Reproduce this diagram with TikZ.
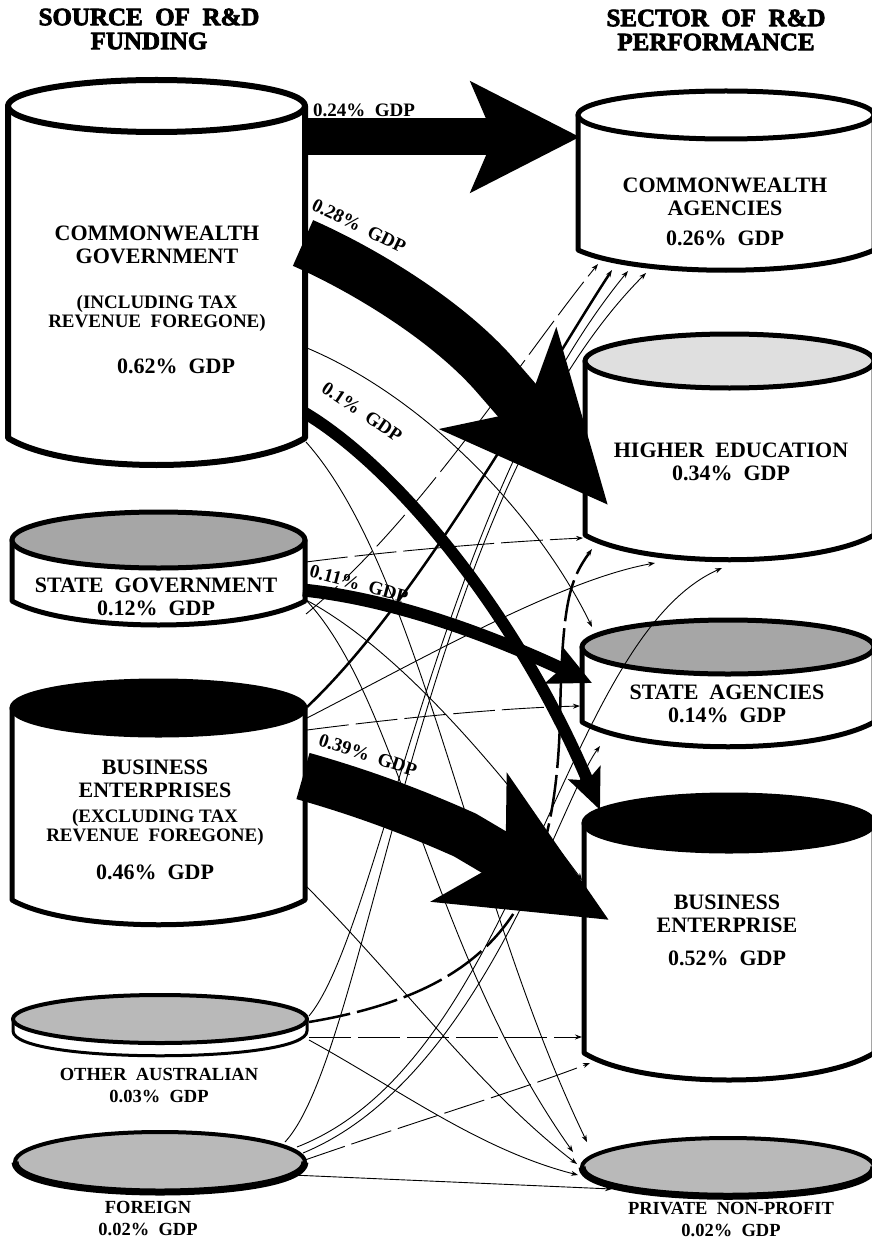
\documentclass[tikz,border=0pt]{standalone}
\usepackage{fontspec}
\setmainfont{Liberation Serif}
\newfontfamily\heavyfont{Liberation Serif}[BoldFeatures={FakeBold=3}]
\usetikzlibrary{arrows.meta,positioning}

\tikzset{
  rim/.style={line width=5pt,line join=round},
  lbl/.style={font=\bfseries\fontsize{22}{23}\selectfont,align=center,inner sep=0pt},
  notelbl/.style={font=\bfseries\fontsize{19}{19}\selectfont,align=center,inner sep=0pt},
  sublbl/.style={font=\bfseries\fontsize{18.5}{22}\selectfont,align=center,inner sep=0pt},
  ttl/.style={font=\heavyfont\bfseries\fontsize{25}{24}\selectfont,align=center,inner sep=0pt},
  pct/.style={font=\bfseries\fontsize{19}{19}\selectfont,inner sep=0pt},
  flow/.style={line width=0.9pt,-{Stealth[length=7pt,width=5pt]}},
  gapflow/.style={flow,dash pattern=on 42pt off 7pt},
}

\begin{document}
\begin{tikzpicture}[x=1pt,y=-1pt,line join=round]
\useasboundingbox[fill=white] (0,0) rectangle (871,1241);
%% titles
\node[ttl] (srcttl) at (149,29) {SOURCE\ \ OF\ \ R\&D\\FUNDING};
\node[ttl] (perfttl) at (716,30) {SECTOR\ \ OF\ \ R\&D\\PERFORMANCE};
%% funding sources
\draw[rim,line width=6pt,fill=white] (8,106) -- (8,438) .. controls (67,474) and (246,474) .. (305,438) -- (305,106) -- cycle;
\draw[rim,line width=6pt,fill=white] (156.5,106) ellipse [x radius=148.5, y radius=26];
\draw[rim,fill=white] (12,540) -- (12,601) .. controls (71,633) and (246,633) .. (305,601) -- (305,540) -- cycle;
\draw[rim,fill=gray!70] (158.5,540) ellipse [x radius=146.5, y radius=28];
\draw[rim,fill=white] (12,708) -- (12,900) .. controls (71,933) and (246,933) .. (305,900) -- (305,708) -- cycle;
\draw[rim,fill=black] (158.5,708) ellipse [x radius=146.5, y radius=27];
\draw[line width=3pt,fill=white] (13,1019) -- (13,1031) .. controls (13,1064) and (307,1064) .. (307,1031) -- (307,1019) -- cycle;
\draw[line width=4pt,fill=gray!55] (160,1019) ellipse [x radius=147, y radius=24];
\draw[line width=4pt,fill=gray!55] (160,1162) ellipse [x radius=145, y radius=30];
\draw[line width=7pt] (15,1162) .. controls (15,1202) and (305,1202) .. (305,1162);
%% performing sectors
\draw[rim,fill=white] (578,115) -- (578,250) .. controls (637,277) and (815,277) .. (874,250) -- (874,115) -- cycle;
\draw[rim,fill=white] (726,115) ellipse [x radius=148, y radius=24];
\draw[rim,fill=white] (585,361) -- (585,535) .. controls (643,568) and (816,568) .. (874,535) -- (874,361) -- cycle;
\draw[rim,fill=gray!25] (729.5,361) ellipse [x radius=144.5, y radius=27];
\draw[rim,fill=white] (582,647) -- (582,722) .. controls (640,755) and (816,755) .. (874,722) -- (874,647) -- cycle;
\draw[rim,fill=gray!70] (728,647) ellipse [x radius=146, y radius=27];
\draw[rim,fill=white] (584,823) -- (584,1053) .. controls (642,1089) and (816,1089) .. (874,1053) -- (874,823) -- cycle;
\draw[rim,fill=black] (729,823) ellipse [x radius=145, y radius=28];
\draw[line width=4pt,fill=gray!55] (728,1167) ellipse [x radius=146, y radius=29];
\draw[line width=7pt] (582,1167) .. controls (582,1206) and (874,1206) .. (874,1167);
%% sector labels
\node[lbl] (cg) at (157,245) {COMMONWEALTH\\GOVERNMENT};
\node[notelbl] (cgnote) at (157,313) {(INCLUDING TAX\\REVENUE\ \ FOREGONE)};
\node[lbl] (cgval) at (176,366) {0.62\%\ \ GDP};
\node[lbl] (sg) at (156,597) {STATE\ \ GOVERNMENT\\0.12\%\ \ GDP};
\node[lbl] (be) at (155,779) {BUSINESS\\ENTERPRISES};
\node[notelbl] (benote) at (155,827) {(EXCLUDING TAX\\REVENUE\ \ FOREGONE)};
\node[lbl] (beval) at (155,872) {0.46\%\ \ GDP};
\node[sublbl] (oa) at (159,1085) {OTHER\ \ AUSTRALIAN\\0.03\%\ \ GDP};
\node[sublbl] (fo) at (148,1218) {FOREIGN\\0.02\%\ \ GDP};
\node[lbl] (ca) at (725,197) {COMMONWEALTH\\AGENCIES};
\node[lbl] (caval) at (725,238) {0.26\%\ \ GDP};
\node[lbl] (he) at (731,462) {HIGHER\ \ EDUCATION\\0.34\%\ \ GDP};
\node[lbl] (sa) at (727,704) {STATE\ \ AGENCIES\\0.14\%\ \ GDP};
\node[lbl] (bp) at (727,914) {BUSINESS\\ENTERPRISE};
\node[lbl] (bpval) at (727,958) {0.52\%\ \ GDP};
\node[sublbl] (pn) at (731,1219) {PRIVATE\ \ NON-PROFIT\\0.02\%\ \ GDP};
%% flow ends
\coordinate (cgTop) at (306,137);
\coordinate (cgMid) at (303,243);
\coordinate (cgLow) at (305,413);
\coordinate (cgA) at (307,348);
\coordinate (cgB) at (306,442);
\coordinate (sgA) at (306,562);
\coordinate (sgB) at (303,590);
\coordinate (sgC) at (306,600);
\coordinate (sgD) at (306,614);
\coordinate (beA) at (307,707);
\coordinate (beB) at (307,718);
\coordinate (beC) at (307,730);
\coordinate (beD) at (303,776);
\coordinate (beE) at (305,885);
\coordinate (oaA) at (309,1016);
\coordinate (oaB) at (309,1022);
\coordinate (oaC) at (309,1037);
\coordinate (oaD) at (309,1040);
\coordinate (foA) at (285,1142);
\coordinate (foB) at (297,1147);
\coordinate (foC) at (303,1153);
\coordinate (foD) at (305,1160);
\coordinate (foE) at (292,1175);
\coordinate (caIn) at (580,137);
\coordinate (caA) at (598,264);
\coordinate (caB) at (612,270);
\coordinate (caC) at (628,271);
\coordinate (caD) at (646,273);
\coordinate (heIn) at (608,505);
\coordinate (heA) at (583,538);
\coordinate (heB) at (592,549);
\coordinate (heC) at (655,563);
\coordinate (heD) at (722,568);
\coordinate (saIn) at (592,683);
\coordinate (saA) at (592,627);
\coordinate (saB) at (580,706);
\coordinate (saC) at (600,746);
\coordinate (bpIn) at (600,810);
\coordinate (bpBig) at (609,920);
\coordinate (bpA) at (582,880);
\coordinate (bpB) at (582,1037);
\coordinate (bpC) at (590,1063);
\coordinate (pnA) at (573,1152);
\coordinate (pnB) at (587,1142);
\coordinate (pnC) at (577,1164);
\coordinate (pnD) at (578,1175);
\coordinate (pnE) at (612,1189);
%% minor flows
\draw[flow] (cgA) .. controls (430,400) and (540,520) .. (saA);
\draw[flow] (cgB) .. controls (420,570) and (470,900) .. (pnB);
\draw[gapflow] (sgD) .. controls (420,520) and (520,360) .. (caA);
\draw[gapflow] (sgA) .. controls (400,550) and (500,542) .. (heA);
\draw[flow] (sgC) .. controls (400,650) and (500,770) .. (bpA);
\draw[flow] (sgC) .. controls (400,700) and (430,950) .. (pnA);
\draw[flow,line width=2.5pt] (beA) .. controls (420,600) and (540,380) .. (caB);
\draw[flow] (beB) .. controls (420,660) and (560,580) .. (heC);
\draw[gapflow] (beC) .. controls (400,718) and (500,708) .. (saB);
\draw[flow] (beE) .. controls (400,980) and (480,1090) .. (pnC);
\draw[flow] (oaA) .. controls (380,930) and (440,500) .. (caC);
\draw[gapflow,line width=2.5pt] (oaB) .. controls (500,990) and (555,900) .. (560,720) .. controls (562,600) and (570,580) .. (heB);
\draw[gapflow] (oaC) -- (bpB);
\draw[flow] (oaD) .. controls (400,1090) and (480,1150) .. (pnD);
\draw[flow] (foA) .. controls (370,1050) and (420,500) .. (caD);
\draw[flow] (foB) .. controls (520,1060) and (560,640) .. (heD);
\draw[flow] (foC) .. controls (480,1080) and (560,800) .. (saC);
\draw[gapflow] (foD) .. controls (420,1120) and (520,1090) .. (bpC);
\draw[flow] (foE) -- (pnE);
%% major flows
\draw[line width=37pt,-{Stealth[length=108pt,width=108pt,inset=22pt]}] (cgTop) -- (caIn);
\draw[line width=50pt,-{Stealth[length=165pt,width=150pt,inset=40pt]}] (cgMid) .. controls (360,268) and (445,318) .. (495,375) -- (heIn);
\draw[line width=12pt,-{Stealth[length=40pt,width=34pt,inset=8pt]}] (cgLow) .. controls (400,470) and (520,620) .. (bpIn);
\draw[line width=13pt,-{Stealth[length=42pt,width=40pt,inset=8pt]}] (sgB) .. controls (400,600) and (500,640) .. (saIn);
\draw[line width=48pt,-{Stealth[length=160pt,width=145pt,inset=40pt]}] (beD) .. controls (370,795) and (420,815) .. (465,835) -- (bpBig);
%% flow values
\node[pct] (v24) at (364,110) {0.24\%\ \ GDP};
\node[pct,rotate=-26] (v28) at (359,226) {0.28\%\ \ GDP};
\node[pct,rotate=-34] (v10) at (362,412) {0.1\%\ \ GDP};
\node[pct,rotate=-15] (v11) at (359,584) {0.11\%\ \ GDP};
\node[pct,rotate=-18] (v39) at (368,755) {0.39\%\ \ GDP};
\end{tikzpicture}
\end{document}
